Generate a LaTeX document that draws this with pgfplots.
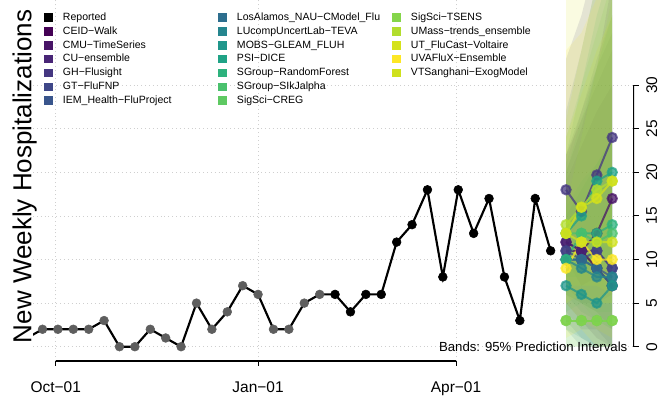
\documentclass[border=0pt]{standalone}
\usepackage{fontspec}
\setmainfont{Liberation Sans}
\usepackage{pgfplots}
\pgfplotsset{compat=1.18}
\definecolor{gridc}{HTML}{CFCFCF}
\definecolor{oldpt}{HTML}{5E5E5E}
\definecolor{m01}{HTML}{440154}
\definecolor{m02}{HTML}{481467}
\definecolor{m03}{HTML}{482576}
\definecolor{m04}{HTML}{453781}
\definecolor{m05}{HTML}{3F4788}
\definecolor{m06}{HTML}{39558C}
\definecolor{m07}{HTML}{2D6E8E}
\definecolor{m08}{HTML}{25858E}
\definecolor{m09}{HTML}{1F968B}
\definecolor{m10}{HTML}{20A386}
\definecolor{m11}{HTML}{2DB27D}
\definecolor{m12}{HTML}{4AC16D}
\definecolor{m13}{HTML}{5EC962}
\definecolor{m14}{HTML}{85D54A}
\definecolor{m15}{HTML}{B2DD2D}
\definecolor{m16}{HTML}{D5E21A}
\definecolor{m17}{HTML}{FDE725}
\definecolor{m18}{HTML}{CFE11C}
\pgfplotsset{
  swatch/.style={legend image code/.code={\fill[##1,draw=none] (0pt,-3.2pt) rectangle (6.4pt,3.2pt);}},
  band/.style={fill=#1, fill opacity=0.13, draw=none, forget plot},
  fc/.style={color=#1, line width=1.5pt, mark=*, mark size=3.5pt, opacity=0.75, forget plot},
}
\begin{document}
\begin{tikzpicture}
\path[use as bounding box] (0,0) rectangle (495.75pt,297.75pt);
\begin{axis}[
  at={(24.75pt,27pt)}, anchor=south west,
  scale only axis, width=450.75pt, height=270.75pt,
  xmin=-10.32, xmax=262.9, ymin=-1.64, ymax=39.77,
  axis line style={draw=none},
  xtick={0,92,182}, xticklabels={Oct−01,Jan−01,Apr−01},
  ytick={0,5,...,30},
  xtick pos=bottom, ytick pos=right, yticklabel pos=right,
  tick align=outside, major tick length=3.4pt,
  tick style={black, line width=0.8pt},
  grid=major, grid style={color=gridc, line width=0.6pt, dash pattern=on 0.7pt off 2.2pt},
  ticklabel style={font=\fontsize{11.6pt}{13pt}\selectfont},
  /pgf/number format/assume math mode=true,
  yticklabel style={rotate=90, anchor=north, inner sep=0pt},
  xticklabel style={anchor=base, inner sep=0pt},
  yticklabel shift=5.6pt,
  xticklabel shift=20.5pt,
  legend style={at={(axis description cs:0.0183,0.9645)}, anchor=north west,
    draw=none, fill=none, inner sep=0pt, outer sep=0pt,
    font=\fontsize{7.9pt}{9pt}\selectfont, row sep=3.07pt,
    nodes={inner sep=0pt, text width=112pt, align=left, text height=5.7pt, text depth=1.6pt},
    /tikz/every odd column/.append style={column sep=7.85pt},
    /tikz/every even column/.append style={column sep=4.25pt}},
  legend cell align=left,
  legend columns=3,
]
% prediction bands
\addplot[band=m01] coordinates {(232,5)(239,3)(246,1)(253,0)(253,34)(246,30)(239,26)(232,22)};
\addplot[band=m02] coordinates {(232,6)(239,5)(246,5)(253,6)(253,42)(246,32)(239,25)(232,20)};
\addplot[band=m03] coordinates {(232,7)(239,5)(246,4)(253,2)(253,30)(246,27)(239,23)(232,19)};
\addplot[band=m04] coordinates {(232,10)(239,7)(246,8)(253,9)(253,55)(246,45)(239,38)(232,33)};
\addplot[band=m05] coordinates {(232,4)(239,2)(246,2)(253,0)(253,36)(246,32)(239,27)(232,22)};
\addplot[band=m06] coordinates {(232,3)(239,1)(246,0)(253,0)(253,38)(246,33)(239,27)(232,21)};
\addplot[band=m07] coordinates {(232,2)(239,0)(246,0)(253,0)(253,50)(246,42)(239,34)(232,27)};
\addplot[band=m08] coordinates {(232,6)(239,4)(246,3)(253,2)(253,24)(246,21)(239,19)(232,16)};
\addplot[band=m09] coordinates {(232,2)(239,1)(246,0)(253,0)(253,24)(246,21)(239,18)(232,15)};
\addplot[band=m10] coordinates {(232,8)(239,8)(246,10)(253,9)(253,44)(246,38)(239,30)(232,22)};
\addplot[band=m11] coordinates {(232,4)(239,5)(246,4)(253,4)(253,38)(246,32)(239,26)(232,20)};
\addplot[band=m12] coordinates {(232,6)(239,5)(246,3)(253,2)(253,42)(246,36)(239,30)(232,24)};
\addplot[band=m13] coordinates {(232,0)(239,0)(246,0)(253,0)(253,16)(246,14)(239,12)(232,10)};
\addplot[band=m14] coordinates {(232,0)(239,0)(246,0)(253,0)(253,40)(246,32)(239,24)(232,16)};
\addplot[band=m15] coordinates {(232,7)(239,7)(246,7)(253,6)(253,50)(246,42)(239,34)(232,26)};
\addplot[band=m16] coordinates {(232,5)(239,6)(246,5)(253,5)(253,80)(246,70)(239,60)(232,48)};
\addplot[band=m17] coordinates {(232,1)(239,2)(246,0)(253,0)(253,45)(246,40)(239,36)(232,34)};
\addplot[band=m18] coordinates {(232,5)(239,3)(246,2)(253,1)(253,38)(246,34)(239,29)(232,24)};
% point forecasts
\addplot[fc=m01] coordinates {(232,12)(239,11)(246,9)(253,7)};
\addplot[fc=m02] coordinates {(232,11)(239,11)(246,13)(253,17)};
\addplot[fc=m03] coordinates {(232,12)(239,11)(246,11)(253,9)};
\addplot[fc=m04] coordinates {(232,18)(239,15.5)(246,19.7)(253,24)};
\addplot[fc=m05] coordinates {(232,11)(239,10)(246,11)(253,9)};
\addplot[fc=m06] coordinates {(232,10)(239,10)(246,9)(253,8)};
\addplot[fc=m07] coordinates {(232,10)(239,10)(246,9)(253,7)};
\addplot[fc=m08] coordinates {(232,10)(239,9)(246,8)(253,8)};
\addplot[fc=m09] coordinates {(232,7)(239,6)(246,5)(253,7)};
\addplot[fc=m10] coordinates {(232,13)(239,15)(246,19)(253,20)};
\addplot[fc=m11] coordinates {(232,10)(239,13)(246,13)(253,14)};
\addplot[fc=m12] coordinates {(232,13)(239,13)(246,12)(253,13)};
\addplot[fc=m13] coordinates {(232,3)(239,3)(246,3)(253,3)};
\addplot[fc=m14] coordinates {(232,3)(239,3)(246,3)(253,3)};
\addplot[fc=m15] coordinates {(232,14)(239,16)(246,18)(253,19)};
\addplot[fc=m16] coordinates {(232,13)(239,16)(246,17)(253,19)};
\addplot[fc=m17] coordinates {(232,9)(239,12)(246,10)(253,10)};
\addplot[fc=m18] coordinates {(232,13)(239,12)(246,12)(253,12)};
% reported
\addplot[only marks, mark=*, mark size=3.3pt, color=oldpt, forget plot] coordinates {
(-6,2)(1,2)(8,2)(15,2)(22,3)(29,0)(36,0)(43,2)(50,1)(57,0)(64,5)(71,2)(78,4)(85,7)(92,6)(99,2)(106,2)(113,5)(120,6)};
\addplot[only marks, mark=*, mark size=3.3pt, color=black, forget plot] coordinates {
(127,6)(134,4)(141,6)(148,6)(155,12)(162,14)(169,18)(176,8)(183,18)(190,13)(197,17)(204,8)(211,3)(218,17)(225,11)};
\addplot[black, line width=1.6pt, no marks, forget plot] coordinates {
(-13,1)(-6,2)(1,2)(8,2)(15,2)(22,3)(29,0)(36,0)(43,2)(50,1)(57,0)(64,5)(71,2)(78,4)(85,7)(92,6)(99,2)(106,2)(113,5)(120,6)
(127,6)(134,4)(141,6)(148,6)(155,12)(162,14)(169,18)(176,8)(183,18)(190,13)(197,17)(204,8)(211,3)(218,17)(225,11)};
% legend, row by row
\addlegendimage{swatch, fill=black}\addlegendentry{Reported}
\addlegendimage{swatch, fill=m07}\addlegendentry{LosAlamos\_NAU−CModel\_Flu}
\addlegendimage{swatch, fill=m14}\addlegendentry{SigSci−TSENS}
\addlegendimage{swatch, fill=m01}\addlegendentry{CEID−Walk}
\addlegendimage{swatch, fill=m08}\addlegendentry{LUcompUncertLab−TEVA}
\addlegendimage{swatch, fill=m15}\addlegendentry{UMass−trends\_ensemble}
\addlegendimage{swatch, fill=m02}\addlegendentry{CMU−TimeSeries}
\addlegendimage{swatch, fill=m09}\addlegendentry{MOBS−GLEAM\_FLUH}
\addlegendimage{swatch, fill=m16}\addlegendentry{UT\_FluCast−Voltaire}
\addlegendimage{swatch, fill=m03}\addlegendentry{CU−ensemble}
\addlegendimage{swatch, fill=m10}\addlegendentry{PSI−DICE}
\addlegendimage{swatch, fill=m17}\addlegendentry{UVAFluX−Ensemble}
\addlegendimage{swatch, fill=m04}\addlegendentry{GH−Flusight}
\addlegendimage{swatch, fill=m11}\addlegendentry{SGroup−RandomForest}
\addlegendimage{swatch, fill=m18}\addlegendentry{VTSanghani−ExogModel}
\addlegendimage{swatch, fill=m05}\addlegendentry{GT−FluFNP}
\addlegendimage{swatch, fill=m12}\addlegendentry{SGroup−SIkJalpha}
\addlegendimage{empty legend}\addlegendentry{}
\addlegendimage{swatch, fill=m06}\addlegendentry{IEM\_Health−FluProject}
\addlegendimage{swatch, fill=m13}\addlegendentry{SigSci−CREG}
% annotation and axis lines
\node[anchor=base east, inner sep=0pt, font=\fontsize{9.9pt}{11pt}\selectfont] at (axis cs:260,-0.5) {Bands: 95\% Prediction Intervals};
\draw[black, line width=0.8pt] (axis cs:0,-1.64) -- (axis cs:182,-1.64);
\draw[black, line width=0.8pt] (axis cs:262.9,0) -- (axis cs:262.9,30);
\end{axis}
\node[rotate=90, anchor=base, inner sep=0pt, font=\fontsize{19.5pt}{22pt}\selectfont] at (23.6pt,165.4pt) {New Weekly Hospitalizations};
\end{tikzpicture}
\end{document}
